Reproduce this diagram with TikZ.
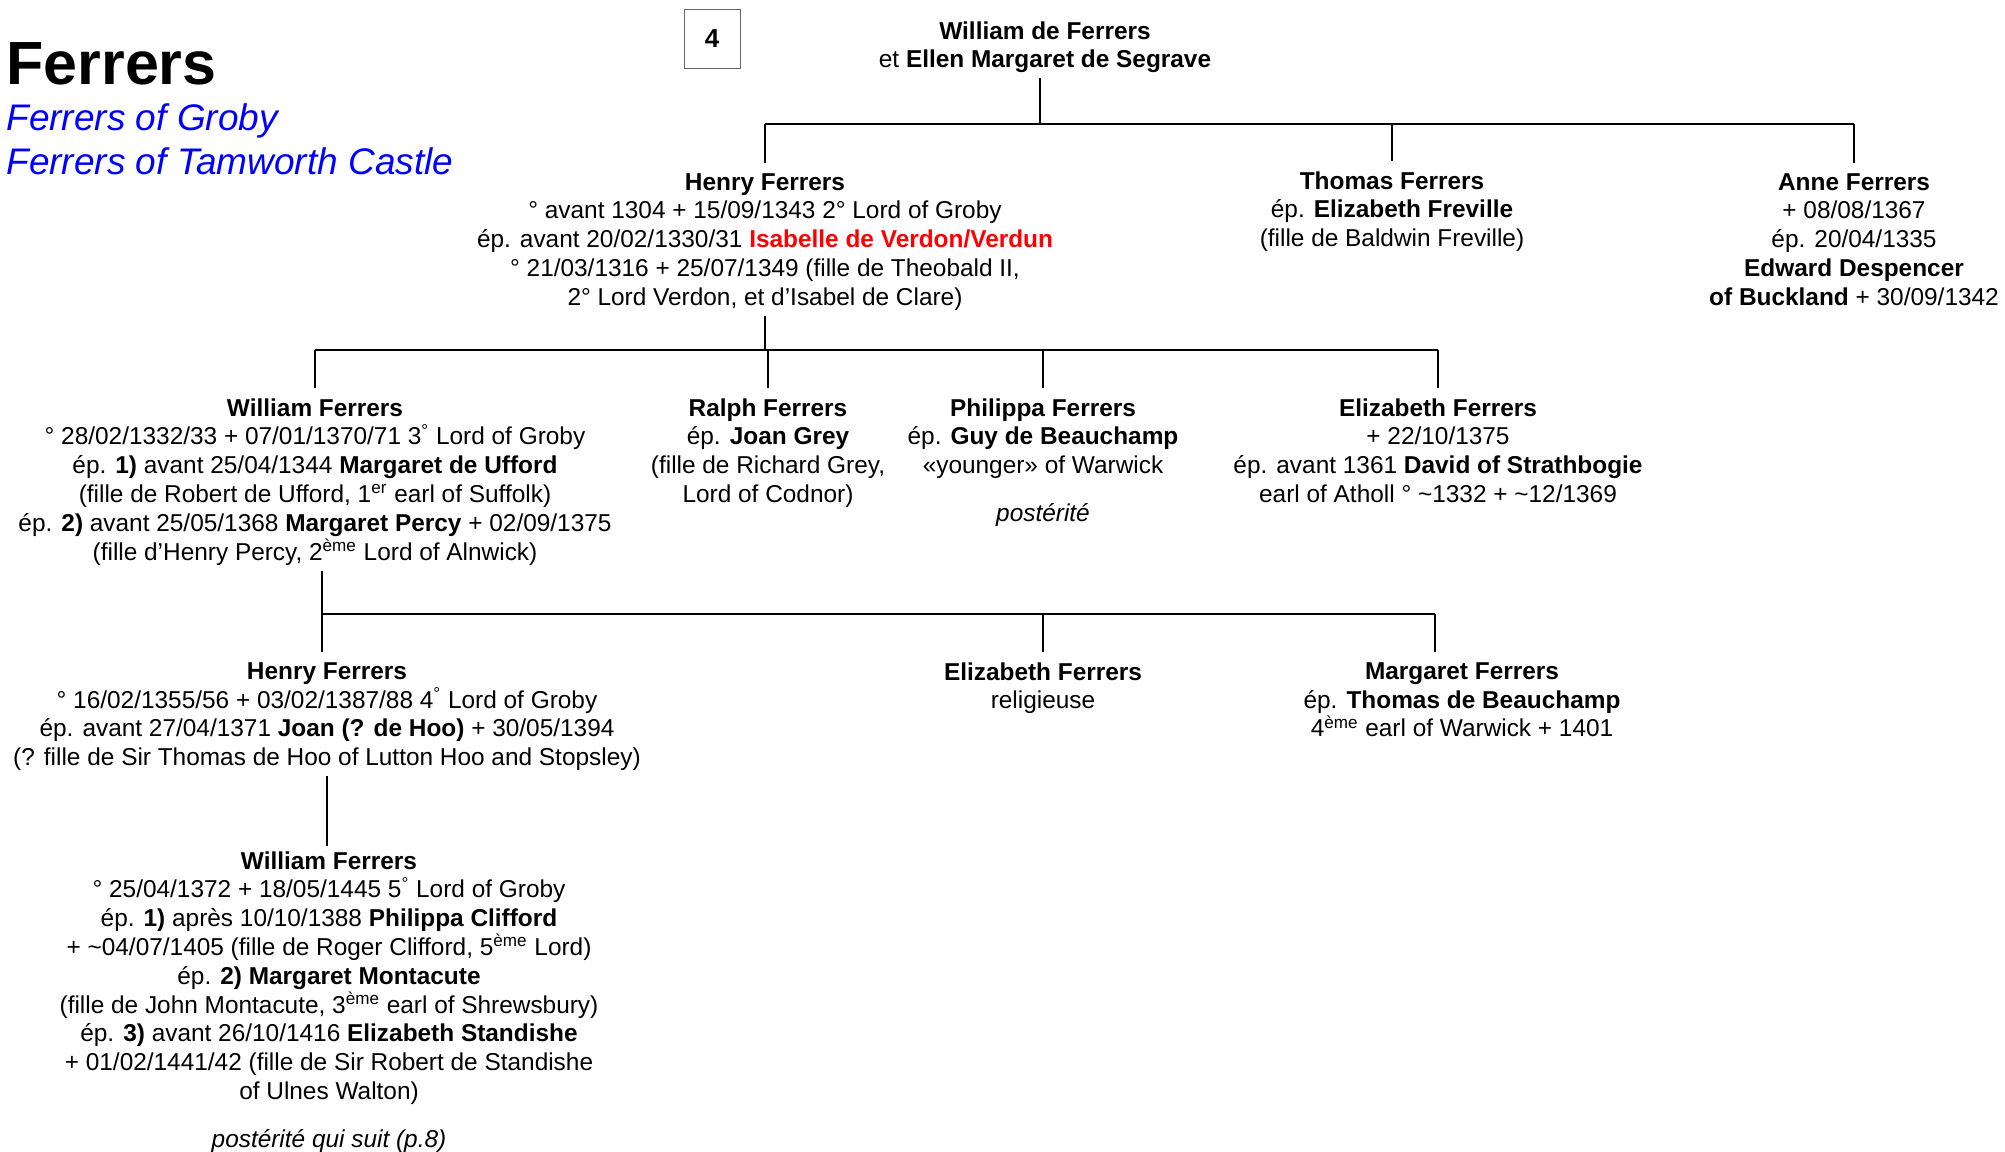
\documentclass[tikz,border=0pt]{standalone}
\usepackage{fontspec}
\setmainfont{Liberation Sans}
\usetikzlibrary{positioning}

\tikzset{
  person/.style={align=center, anchor=north, inner xsep=0pt, inner ysep=2.5pt,
    font=\fontsize{12.2}{14.4}\selectfont},
  link/.style={line width=1pt},
  drop/.style={link, shorten >=2.5pt},
}

\begin{document}
\begin{tikzpicture}[x=0.5pt, y=-0.5pt]
  \useasboundingbox (0,0) rectangle (2005,1151);

  % title
  \node[anchor=base west, inner sep=0pt, font=\fontsize{30.5}{36}\selectfont\bfseries] (title) at (6,84) {Ferrers};
  \node[anchor=base west, inner sep=0pt, text=blue, font=\fontsize{18.5}{22}\selectfont\itshape] (groby) at (6,130) {Ferrers of Groby};
  \node[anchor=base west, inner sep=0pt, text=blue, font=\fontsize{18.5}{22}\selectfont\itshape] (tamworth) at (6,174) {Ferrers of Tamworth Castle};
  \node[draw=black!60, line width=0.5pt, minimum width=28pt, minimum height=29.5pt, font=\fontsize{13}{15}\selectfont\bfseries] (page) at (712,38.5) {4};

  % generation 1
  \node[person] (top) at (1045,16) {\textbf{William de Ferrers}\\ et \textbf{Ellen Margaret de Segrave}};

  \node[person] (henry1) at (765,168) {\textbf{Henry Ferrers}\\
    ° avant 1304 + 15/09/1343 2° Lord of Groby\\
    ép. avant 20/02/1330/31 \textcolor{red}{\textbf{Isabelle de Verdon/Verdun}}\\
    ° 21/03/1316 + 25/07/1349 (fille de Theobald II,\\
    2° Lord Verdon, et d’Isabel de Clare)};
  \node[person] (thomas) at (1392,166) {\textbf{Thomas Ferrers}\\
    ép. \textbf{Elizabeth Freville}\\
    (fille de Baldwin Freville)};
  \node[person] (anne) at (1854,168) {\textbf{Anne Ferrers}\\
    + 08/08/1367\\
    ép. 20/04/1335\\
    \textbf{Edward Despencer}\\
    \textbf{of Buckland} + 30/09/1342};

  % generation 2
  \node[person] (will2) at (315,393) {\textbf{William Ferrers}\\
    ° 28/02/1332/33 + 07/01/1370/71 3\textsuperscript{°} Lord of Groby\\
    ép. \textbf{1)} avant 25/04/1344 \textbf{Margaret de Ufford}\\
    (fille de Robert de Ufford, 1\textsuperscript{er} earl of Suffolk)\\
    ép. \textbf{2)} avant 25/05/1368 \textbf{Margaret Percy} + 02/09/1375\\
    (fille d’Henry Percy, 2\textsuperscript{ème} Lord of Alnwick)};
  \node[person] (ralph) at (768,393) {\textbf{Ralph Ferrers}\\
    ép. \textbf{Joan Grey}\\
    (fille de Richard Grey,\\
    Lord of Codnor)};
  \node[person] (philippa) at (1043,393) {\textbf{Philippa Ferrers}\\
    ép. \textbf{Guy de Beauchamp}\\
    «younger» of Warwick\\[9.6pt]
    \textit{postérité}};
  \node[person] (eliz2) at (1438,393) {\textbf{Elizabeth Ferrers}\\
    + 22/10/1375\\
    ép. avant 1361 \textbf{David of Strathbogie}\\
    earl of Atholl ° \textasciitilde1332 + \textasciitilde12/1369};

  % generation 3
  \node[person] (henry3) at (327,657) {\textbf{Henry Ferrers}\\
    ° 16/02/1355/56 + 03/02/1387/88 4\textsuperscript{°} Lord of Groby\\
    ép. avant 27/04/1371 \textbf{Joan (? de Hoo)} + 30/05/1394\\
    (? fille de Sir Thomas de Hoo of Lutton Hoo and Stopsley)};
  \node[person] (eliz3) at (1043,657) {\textbf{Elizabeth Ferrers}\\
    religieuse};
  \node[person] (marg3) at (1462,657) {\textbf{Margaret Ferrers}\\
    ép. \textbf{Thomas de Beauchamp}\\
    4\textsuperscript{ème} earl of Warwick + 1401};

  % generation 4
  \node[person] (will4) at (329,846) {\textbf{William Ferrers}\\
    ° 25/04/1372 + 18/05/1445 5\textsuperscript{°} Lord of Groby\\
    ép. \textbf{1)} après 10/10/1388 \textbf{Philippa Clifford}\\
    + \textasciitilde04/07/1405 (fille de Roger Clifford, 5\textsuperscript{ème} Lord)\\
    ép. \textbf{2) Margaret Montacute}\\
    (fille de John Montacute, 3\textsuperscript{ème} earl of Shrewsbury)\\
    ép. \textbf{3)} avant 26/10/1416 \textbf{Elizabeth Standishe}\\
    + 01/02/1441/42 (fille de Sir Robert de Standishe\\
    of Ulnes Walton)\\[9.6pt]
    \textit{postérité qui suit (p.8)}};

  % junctions
  \coordinate (j1) at (1040,124);
  \coordinate (j2) at (767,350);
  \coordinate (j3) at (322,614);
  \coordinate (j3e) at (1435,614);

  % links
  \draw[link] (top.south -| j1) -- (j1);
  \draw[link] (j1 -| henry1) -- (j1 -| anne);
  \foreach \n in {henry1,thomas,anne}
    \draw[drop] (j1 -| \n) -- (\n.north);

  \draw[link] (henry1.south) -- (henry1.south |- j2);
  \draw[link] (j2 -| will2) -- (j2 -| eliz2);
  \foreach \n in {will2,ralph,philippa,eliz2}
    \draw[drop] (j2 -| \n) -- (\n.north);

  \draw[link] (will2.south -| j3) -- (j3) -- (j3e);
  \draw[drop] (j3) -- (j3 |- henry3.north);
  \draw[drop] (j3 -| eliz3) -- (eliz3.north);
  \draw[drop] (j3e) -- (j3e |- marg3.north);

  \draw[link] (henry3.south) -- (henry3.south |- will4.north);
\end{tikzpicture}
\end{document}
